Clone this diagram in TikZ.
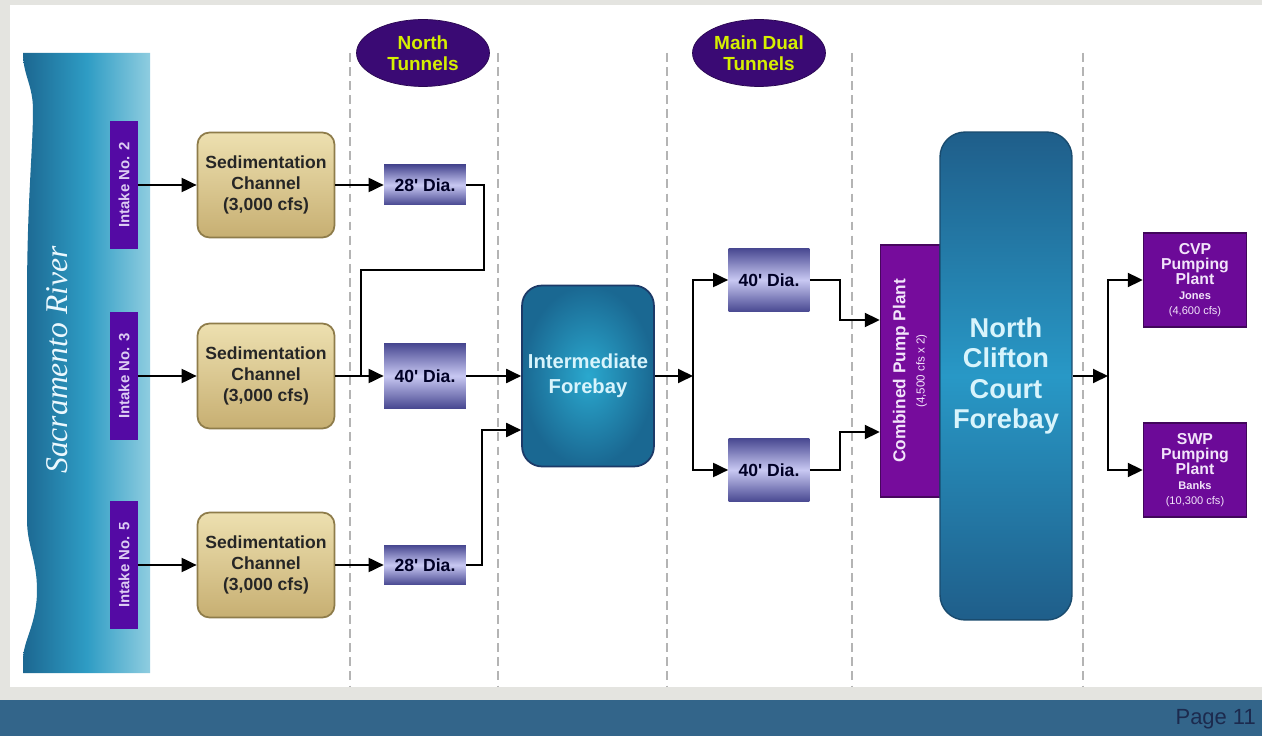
\documentclass[tikz,border=0pt]{standalone}
\usepackage{fontspec}
\setmainfont{Liberation Sans}[Ligatures=TeXOff]
\newfontfamily\riverfont{Liberation Serif}
\usetikzlibrary{arrows.meta,shapes.geometric,calc}

\definecolor{bggray}{HTML}{E4E4E0}
\definecolor{footerblue}{HTML}{33658A}
\definecolor{pagetextcol}{HTML}{1C2A4E}
\definecolor{dashgray}{HTML}{B4B4B4}
\definecolor{riverdark}{HTML}{1C6791}
\definecolor{rivermid}{HTML}{2E9CC4}
\definecolor{riverlight}{HTML}{8FCDE0}
\definecolor{intakepurple}{HTML}{540AA4}
\definecolor{intaketext}{HTML}{DCCCF2}
\definecolor{pumppurple}{HTML}{760C9C}
\definecolor{plantpurple}{HTML}{6C0A98}
\definecolor{planttext}{HTML}{F2E4FA}
\definecolor{ellpurple}{HTML}{3A0A74}
\definecolor{elltext}{HTML}{D6F000}
\definecolor{sedtop}{HTML}{EDE0B0}
\definecolor{sedbottom}{HTML}{C7AF72}
\definecolor{sedborder}{HTML}{8E7C4A}
\definecolor{diadark}{HTML}{474790}
\definecolor{dialight}{HTML}{C8C8F2}
\definecolor{fbinner}{HTML}{2AA8CE}
\definecolor{fbouter}{HTML}{1A6892}
\definecolor{fbborder}{HTML}{1C3A68}
\definecolor{fbtext}{HTML}{D8F4FC}
\definecolor{nccdark}{HTML}{1F5E8A}
\definecolor{nccmid}{HTML}{2898C6}

\begin{document}
\begin{tikzpicture}[x=0.02cm, y=-0.02cm,
    flow/.style={draw=black, line width=1.1pt, -{Triangle[length=3mm,width=2.8mm]}},
    pipe/.style={draw=black, line width=1.1pt},
    divider/.style={draw=dashgray, line width=0.9pt, dash pattern=on 5pt off 3pt},
    tunnellabel/.style={ellipse, fill=ellpurple, draw=ellpurple!70!black, text=elltext,
        minimum width=2.66cm, minimum height=1.34cm, inner sep=0pt, align=center,
        font=\fontsize{10.8}{12}\selectfont\bfseries},
    intake/.style={rotate=90, fill=intakepurple, text=intaketext, minimum width=2.58cm,
        minimum height=0.56cm, inner sep=0pt, font=\fontsize{8.5}{10}\selectfont\bfseries},
    sedbox/.style={rounded corners=0.24cm, top color=sedtop, bottom color=sedbottom,
        draw=sedborder, line width=1pt, minimum width=2.74cm, minimum height=2.1cm,
        align=center, text=black!85, font=\fontsize{10}{12.2}\selectfont\bfseries},
    diabox/.style={top color=diadark, bottom color=diadark, middle color=dialight,
        minimum width=1.64cm, minimum height=0.8cm, inner sep=0pt, text=black!85!blue,
        font=\fontsize{10}{12}\selectfont\bfseries},
    forebaybox/.style={rounded corners=0.4cm, shading=radial, inner color=fbinner,
        outer color=fbouter, draw=fbborder, line width=1pt, minimum width=2.62cm,
        minimum height=3.62cm, align=center, text=fbtext,
        font=\fontsize{11.5}{14}\selectfont\bfseries},
    plantbox/.style={fill=plantpurple, draw=plantpurple!60!black, line width=0.8pt,
        text=planttext, minimum width=2.06cm, minimum height=1.88cm, inner sep=0pt,
        align=center, font=\fontsize{9}{8.5}\selectfont\bfseries}]

    % 背景与页脚
    \useasboundingbox (0,0) rectangle (1262,736);
    \fill[bggray] (0,0) rectangle (1262,736);
    \fill[white] (10,5) rectangle (1262,687);
    \fill[footerblue] (0,700) rectangle (1262,736);
    \node[anchor=east, text=pagetextcol, font=\fontsize{12.5}{14}\selectfont] (page) at (1262,719) {Page 11};

    % 虚线分隔
    \foreach \x in {350,498,667,852,1083}
        \draw[divider] (\x,53) -- (\x,687);

    % 河流
    \shade[left color=riverdark, right color=riverlight, middle color=rivermid]
        (150,53) -- (23,53) .. controls (23,75) and (33,85) .. (33,110)
        .. controls (33,150) and (27,200) .. (27,300) -- (27,520)
        .. controls (27,545) and (37,560) .. (37,590)
        .. controls (37,625) and (23,640) .. (23,660) -- (23,673) -- (150,673) -- cycle;
    \node[rotate=90, text=white!92!cyan, font=\riverfont\itshape\fontsize{18}{20}\selectfont] (river) at (57,360) {Sacramento River};

    % 顶部标签
    \node[tunnellabel] (northtun) at (423,53) {North\\Tunnels};
    \node[tunnellabel] (maintun) at (759,53) {Main Dual\\Tunnels};

    % 取水口
    \node[intake] (int2) at (124,185) {Intake No. 2};
    \node[intake] (int3) at (124,376) {Intake No. 3};
    \node[intake] (int5) at (124,565) {Intake No. 5};

    % 沉淀渠
    \node[sedbox] (sed1) at (266,185) {Sedimentation\\Channel\\(3,000 cfs)};
    \node[sedbox] (sed2) at (266,376) {Sedimentation\\Channel\\(3,000 cfs)};
    \node[sedbox] (sed3) at (266,565) {Sedimentation\\Channel\\(3,000 cfs)};

    % 北隧道
    \node[diabox] (dia1) at (425,185) {28' Dia.};
    \node[diabox, minimum height=1.3cm] (dia2) at (425,376) {40' Dia.};
    \node[diabox] (dia3) at (425,565) {28' Dia.};

    % 中间前池
    \node[forebaybox] (forebay) at (588,376) {Intermediate\\Forebay};

    % 主双隧道
    \node[diabox, minimum width=1.62cm, minimum height=1.28cm] (md1) at (769,280) {40' Dia.};
    \node[diabox, minimum width=1.62cm, minimum height=1.28cm] (md2) at (769,470) {40' Dia.};

    % 泵站与前池
    \node[rotate=90, fill=pumppurple, draw=pumppurple!60!black, line width=0.8pt, text=planttext,
        minimum width=5.04cm, minimum height=1.18cm, inner sep=0pt, align=center] (pump) at (910,371)
        {{\fontsize{9.8}{11}\selectfont\bfseries Combined Pump Plant}\\[-1pt]{\fontsize{6.6}{7.5}\selectfont (4,500 cfs x 2)}};
    \node[rounded corners=0.5cm, top color=nccdark, bottom color=nccdark, middle color=nccmid,
        draw=nccdark!80!black, line width=0.8pt, minimum width=2.64cm, minimum height=9.76cm,
        align=center, text=fbtext, font=\fontsize{15.5}{17.3}\selectfont\bfseries] (ncc) at (1006,376)
        {North\\Clifton\\Court\\Forebay};

    % 抽水厂
    \node[plantbox] (cvp) at (1195,280) {CVP\\Pumping\\Plant\\{\fontsize{6.3}{8.5}\selectfont Jones}\\{\fontsize{6.3}{8.5}\selectfont\mdseries (4,600 cfs)}};
    \node[plantbox] (swp) at (1195,470) {SWP\\Pumping\\Plant\\{\fontsize{6.3}{8.5}\selectfont Banks}\\{\fontsize{6.3}{8.5}\selectfont\mdseries (10,300 cfs)}};

    % 连接线
    \coordinate (n1) at (484,270);
    \coordinate (j1) at (361,376);
    \coordinate (n3) at (482,430);
    \coordinate (split1) at (693,376);
    \coordinate (m1) at (840,320);
    \coordinate (m2) at (840,432);
    \coordinate (split2) at (1108,376);

    \draw[flow] (int2) -- (sed1);
    \draw[flow] (int3) -- (sed2);
    \draw[flow] (int5) -- (sed3);
    \draw[flow] (sed1) -- (dia1);
    \draw[flow] (sed2) -- (dia2);
    \draw[flow] (sed3) -- (dia3);
    \draw[pipe] (dia1.east) -| (n1) -| (j1);
    \draw[flow] (dia2) -- (forebay);
    \draw[flow] (dia3.east) -| (n3) -- (forebay.west |- n3);
    \draw[flow] (forebay) -- (split1);
    \draw[flow] (split1) |- (md1);
    \draw[flow] (split1) |- (md2);
    \draw[flow] (md1.east) -| (m1) -- (m1 -| pump.north);
    \draw[flow] (md2.east) -| (m2) -- (m2 -| pump.north);
    \draw[flow] (ncc) -- (split2);
    \draw[flow] (split2) |- (cvp);
    \draw[flow] (split2) |- (swp);
\end{tikzpicture}
\end{document}
